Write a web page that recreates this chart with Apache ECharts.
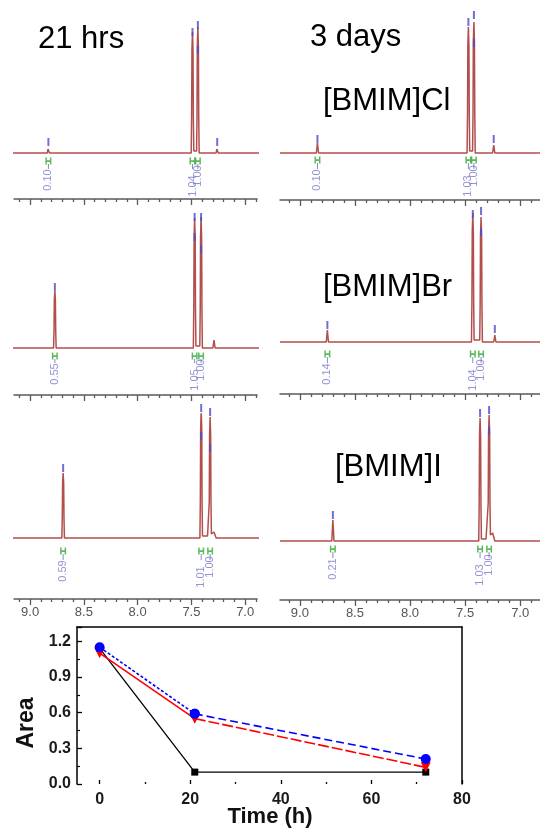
<!DOCTYPE html>
<html>
<head>
<meta charset="utf-8">
<script src="https://cdn.jsdelivr.net/npm/echarts@6/dist/echarts.min.js"></script>
<style>
html,body{margin:0;padding:0;background:#fff}
#c{width:540px;height:832px}
</style>
</head>
<body>
<div id="c"></div>
<script>
// ---- chemical shift axis ticks (ppm) ----
const ppmMajorTicks = [9.0, 8.5, 8.0, 7.5, 7.0];
const ppmMinorTicks = [9.1, 8.9, 8.8, 8.7, 8.6, 8.4, 8.3, 8.2, 8.1, 7.9, 7.8, 7.7, 7.6, 7.4, 7.3, 7.2, 7.1, 6.9];

// ---- 1H NMR traces: [ppm, intensity] ----
const specCl21 = [[9.18,0],[8.84,0],[8.834,4],[8.83,6],[8.826,4],[8.82,0],
  [7.75,0],[7.74,1],[7.73,0],[7.71,0],[7.70,1],[7.69,0],
  [7.502,0],[7.498,36],[7.495,103],[7.49,121],[7.485,103],[7.482,36],[7.478,2],[7.465,2],
  [7.452,2],[7.448,38],[7.445,107],[7.44,126],[7.435,107],[7.432,38],[7.428,0],
  [7.27,0],[7.264,4],[7.26,6],[7.256,4],[7.25,0],
  [7.20,0],[7.19,0.8],[7.18,0],[6.82,0]];
const specCl72 = [[9.18,0],[8.85,0],[8.844,6],[8.84,10],[8.836,6],[8.83,0],
  [7.73,0],[7.72,1],[7.71,0],[7.69,0],[7.68,1],[7.67,0],
  [7.482,0],[7.478,38],[7.475,107],[7.47,126],[7.465,107],[7.462,38],[7.458,2],[7.445,2],
  [7.432,2],[7.428,39],[7.425,111],[7.42,131],[7.415,111],[7.412,39],[7.408,0],
  [7.25,0],[7.244,5],[7.24,8],[7.236,5],[7.23,0],
  [7.17,0],[7.16,0.8],[7.15,0],[6.82,0]];
const specBr21 = [[9.18,0],[8.782,0],[8.778,17],[8.775,48],[8.77,57],[8.765,48],[8.762,17],[8.758,0],
  [7.73,0],[7.72,1],[7.71,0],[7.68,0],[7.67,1],[7.66,0],
  [7.482,0],[7.478,39],[7.475,110],[7.47,130],[7.465,110],[7.462,39],[7.458,2],[7.44,2],
  [7.422,2],[7.418,39],[7.415,111],[7.41,131],[7.405,111],[7.402,39],[7.398,0],
  [7.30,0],[7.294,5],[7.29,8],[7.286,5],[7.28,0],
  [7.24,0],[7.23,1],[7.22,0],[7.17,0],[7.16,1],[7.15,0],[6.82,0]];
const specBr72 = [[9.18,0],[8.76,0],[8.754,7],[8.75,12],[8.746,7],[8.74,0],
  [7.69,0],[7.68,1],[7.67,0],[7.62,0],[7.61,1],[7.60,0],
  [7.442,0],[7.438,39],[7.435,110],[7.43,129],[7.425,110],[7.422,39],[7.418,2],[7.39,2],
  [7.367,2],[7.363,38],[7.36,106],[7.355,125],[7.35,106],[7.347,38],[7.343,0],
  [7.24,0],[7.234,4],[7.23,7],[7.226,4],[7.22,0],
  [7.16,0],[7.15,1],[7.14,0],[7.11,0],[7.10,1],[7.09,0],[6.82,0]];
const specI21 = [[9.18,0],[8.705,0],[8.701,20],[8.698,55],[8.693,65],[8.688,55],[8.685,20],[8.681,0],
  [7.71,0],[7.70,1],[7.69,0],[7.64,0],[7.63,1],[7.62,0],[7.60,0],[7.59,1],[7.58,0],
  [7.421,0],[7.417,38],[7.414,109],[7.409,128],[7.404,109],[7.401,38],[7.397,2],[7.35,2],
  [7.338,2],[7.334,36],[7.331,103],[7.326,121],[7.321,103],[7.318,36],[7.314,4],
  [7.30,5],[7.29,6],[7.28,3],[7.27,0],
  [7.06,0],[7.05,1],[7.04,0],[6.82,0]];
const specI72 = [[9.18,0],[8.71,0],[8.704,13],[8.70,21],[8.696,13],[8.69,0],
  [7.65,0],[7.64,1],[7.63,0],[7.58,0],[7.57,1],[7.56,0],
  [7.376,0],[7.372,37],[7.369,105],[7.364,123],[7.359,105],[7.356,37],[7.352,2],[7.31,2],
  [7.294,2],[7.29,38],[7.287,107],[7.282,126],[7.277,107],[7.274,38],[7.27,6],
  [7.26,7],[7.25,8],[7.24,4],[7.23,0],
  [7.10,0],[7.09,1],[7.08,0],[6.82,0]];

// ---- peak-pick ticks: [ppm, level] ----
const pickCl21 = [[8.83,11],[7.49,121],[7.44,128],[7.44,103],[7.26,11]];
const pickCl72 = [[8.84,14],[7.47,131],[7.42,138],[7.42,110],[7.24,14]];
const pickBr21 = [[8.77,61],[7.47,131],[7.47,111],[7.41,131],[7.41,99]];
const pickBr72 = [[8.75,17],[7.43,128],[7.355,131],[7.355,110],[7.23,13]];
const pickI21 = [[8.693,70],[7.409,130],[7.409,102],[7.326,126],[7.326,90]];
const pickI72 = [[8.70,26],[7.364,128],[7.282,131],[7.282,110]];

// ---- integrals: [ppm, value] ----
const intCl21 = [[8.83,'0.10'],[7.49,'1.04'],[7.44,'1.00']];
const intCl72 = [[8.84,'0.10'],[7.47,'1.03'],[7.42,'1.00']];
const intBr21 = [[8.77,'0.55'],[7.47,'1.05'],[7.41,'1.00']];
const intBr72 = [[8.75,'0.14'],[7.43,'1.04'],[7.355,'1.00']];
const intI21 = [[8.693,'0.59'],[7.409,'1.01'],[7.326,'1.00']];
const intI72 = [[8.70,'0.21'],[7.364,'1.03'],[7.282,'1.00']];

// ---- area vs time ----
const timeHours = [0, 21, 72];
const areaCl = [1.14, 0.10, 0.10];
const areaBr = [1.10, 0.55, 0.14];
const areaI  = [1.15, 0.59, 0.21];
const timeMajorTicks = [0, 20, 40, 60, 80];
const timeMinorTicks = [10, 30, 50, 70];

// ---- layout ----
const FONT = '"Liberation Sans", Arial, sans-serif';
const H = 185;
const cols = [
  {left: 14, width: 243, min: 6.89, max: 9.15},
  {left: 280, width: 260, min: 6.82, max: 9.18}
];
const panels = [
  {spec: specCl21, picks: pickCl21, ints: intCl21, col: 0, axisY: 199, base: 153, gDy: 8,  tDy: 27, labels: false},
  {spec: specCl72, picks: pickCl72, ints: intCl72, col: 1, axisY: 200, base: 153, gDy: 7,  tDy: 27, labels: false},
  {spec: specBr21, picks: pickBr21, ints: intBr21, col: 0, axisY: 395, base: 348, gDy: 8,  tDy: 26, labels: false},
  {spec: specBr72, picks: pickBr72, ints: intBr72, col: 1, axisY: 394, base: 342, gDy: 12, tDy: 32, labels: false},
  {spec: specI21,  picks: pickI21,  ints: intI21,  col: 0, axisY: 599, base: 538, gDy: 13, tDy: 33, labels: true},
  {spec: specI72,  picks: pickI72,  ints: intI72,  col: 1, axisY: 600, base: 541, gDy: 8,  tDy: 28, labels: true}
];

const grids = [], xAxes = [], yAxes = [], series = [];
const axisGray = '#5a5a5a';

panels.forEach((p, i) => {
  const c = cols[p.col];
  const below = p.axisY - p.base;
  grids.push({left: c.left, width: c.width, top: p.axisY - H, height: H});
  // major ticks + labels
  xAxes.push({
    type: 'value', gridIndex: i, inverse: true, min: c.min, max: c.max, position: 'bottom',
    axisLine: {show: true, onZero: false, lineStyle: {color: axisGray, width: 1.5}},
    axisTick: {show: true, inside: false, length: 6, customValues: ppmMajorTicks, lineStyle: {color: axisGray, width: 1.3}},
    axisLabel: {show: p.labels, customValues: ppmMajorTicks, formatter: v => v.toFixed(1),
      color: '#555', fontSize: 13, fontFamily: FONT, margin: 7},
    splitLine: {show: false}
  });
  // minor ticks
  xAxes.push({
    type: 'value', gridIndex: i, inverse: true, min: c.min, max: c.max, position: 'bottom',
    axisLine: {show: false, onZero: false},
    axisTick: {show: true, inside: false, length: 3, customValues: ppmMinorTicks, lineStyle: {color: axisGray, width: 1.3}},
    axisLabel: {show: false},
    splitLine: {show: false}
  });
  yAxes.push({type: 'value', gridIndex: i, min: -below, max: H - below, show: false});

  const xi = 2 * i;
  series.push({
    type: 'line', xAxisIndex: xi, yAxisIndex: i, data: p.spec, symbol: 'none',
    lineStyle: {color: '#b24f4c', width: 1.5}, silent: true, z: 2
  });
  series.push({
    type: 'scatter', xAxisIndex: xi, yAxisIndex: i, data: p.picks, symbol: 'rect', symbolSize: [2, 8],
    itemStyle: {color: '#4b4bc9'}, clip: false, silent: true, z: 3
  });
  series.push({
    type: 'scatter', xAxisIndex: xi, yAxisIndex: i, data: p.ints.map(d => [d[0], -p.gDy]),
    symbol: 'path://M0,0H2V3H6V0H8V8H6V5H2V8H0Z', symbolSize: [6, 7],
    itemStyle: {color: '#35a835'}, clip: false, silent: true, z: 3
  });
  const gap = Math.max(2, p.tDy - 11 - p.gDy - 3);
  series.push({
    type: 'scatter', xAxisIndex: xi, yAxisIndex: i,
    data: p.ints.map(d => [d[0], -(p.gDy + 3 + gap / 2)]),
    symbol: 'rect', symbolSize: [1, gap], itemStyle: {color: '#6a6ac4'}, clip: false, silent: true, z: 3
  });
  series.push({
    type: 'scatter', xAxisIndex: xi, yAxisIndex: i,
    data: p.ints.map((d, k) => ({
      value: [d[0], -p.tDy], name: d[1],
      label: {offset: [k === 1 ? -6 : (k === 2 ? 4 : 0), 0]}
    })),
    symbol: 'rect', symbolSize: 2, itemStyle: {color: 'rgba(255,255,255,0)'}, clip: false, silent: true, z: 4,
    label: {show: true, formatter: '{b}', rotate: 90, position: 'inside',
      color: '#7878c8', fontSize: 11, fontFamily: FONT}
  });
});

// ---- area vs time chart ----
const gi = panels.length;
grids.push({left: 77, top: 627, width: 385, height: 157});
const xMain = xAxes.length;
xAxes.push({
  type: 'value', gridIndex: gi, min: -5, max: 80, position: 'bottom',
  axisLine: {show: false, onZero: false},
  axisTick: {show: true, inside: true, length: 4, customValues: timeMajorTicks, lineStyle: {color: '#000', width: 1.3}},
  axisLabel: {customValues: timeMajorTicks, color: '#1a1a1a', fontSize: 16, fontWeight: 'bold', fontFamily: FONT, margin: 8},
  splitLine: {show: false}
});
xAxes.push({
  type: 'value', gridIndex: gi, min: -5, max: 80, position: 'bottom',
  axisLine: {show: false, onZero: false},
  axisTick: {show: true, inside: true, length: 2, customValues: timeMinorTicks, lineStyle: {color: '#000', width: 1.3}},
  axisLabel: {show: false}, splitLine: {show: false}
});
xAxes.push({
  type: 'value', gridIndex: gi, min: -5, max: 80, position: 'top',
  axisLine: {show: true, onZero: false, lineStyle: {color: '#000', width: 1.5}},
  axisTick: {show: false}, axisLabel: {show: false}, splitLine: {show: false}
});
const yMain = yAxes.length;
yAxes.push({
  type: 'value', gridIndex: gi, min: 0, max: 1.32, interval: 0.3, position: 'left',
  axisLine: {show: true, onZero: false, lineStyle: {color: '#000', width: 1.5}},
  axisTick: {show: true, inside: true, length: 5, lineStyle: {color: '#000', width: 1.3}},
  minorTick: {show: true, splitNumber: 2, length: 3, lineStyle: {color: '#000', width: 1.2}},
  axisLabel: {formatter: v => v.toFixed(1), showMaxLabel: false, color: '#1a1a1a', fontSize: 16,
    fontWeight: 'bold', fontFamily: FONT, margin: 6},
  splitLine: {show: false}
});
yAxes.push({
  type: 'value', gridIndex: gi, min: 0, max: 1.32, position: 'right',
  axisLine: {show: true, onZero: false, lineStyle: {color: '#000', width: 1.5}},
  axisTick: {show: false}, axisLabel: {show: false}, splitLine: {show: false}
});

const ptsCl = timeHours.map((t, k) => [t, areaCl[k]]);
const ptsBr = timeHours.map((t, k) => [t, areaBr[k]]);
const ptsI  = timeHours.map((t, k) => [t, areaI[k]]);

series.push({
  type: 'line', xAxisIndex: xMain, yAxisIndex: yMain, data: ptsCl,
  symbol: 'rect', symbolSize: 7, showAllSymbol: true,
  lineStyle: {color: '#000', width: 1.3}, itemStyle: {color: '#000'}, z: 4
});
series.push({
  type: 'line', xAxisIndex: xMain, yAxisIndex: yMain, data: ptsBr.slice(0, 2),
  symbol: 'triangle', symbolRotate: 180, symbolSize: 10,
  lineStyle: {color: '#ff0000', width: 1.6}, itemStyle: {color: '#ff0000'}, z: 5
});
series.push({
  type: 'line', xAxisIndex: xMain, yAxisIndex: yMain, data: ptsBr.slice(1),
  symbol: 'triangle', symbolRotate: 180, symbolSize: 10,
  lineStyle: {color: '#ff0000', width: 1.6, type: [11, 3]}, itemStyle: {color: '#ff0000'}, z: 5
});
series.push({
  type: 'line', xAxisIndex: xMain, yAxisIndex: yMain, data: ptsI.slice(0, 2),
  symbol: 'circle', symbolSize: 10,
  lineStyle: {color: '#0000ff', width: 1.6, type: [3, 2]}, itemStyle: {color: '#0000ff'}, z: 6
});
series.push({
  type: 'line', xAxisIndex: xMain, yAxisIndex: yMain, data: ptsI.slice(1),
  symbol: 'circle', symbolSize: 10,
  lineStyle: {color: '#0000ff', width: 1.6, type: [8, 4]}, itemStyle: {color: '#0000ff'}, z: 6
});

const bigFont = '31px ' + FONT;
const option = {
  animation: false,
  backgroundColor: '#fff',
  grid: grids,
  xAxis: xAxes,
  yAxis: yAxes,
  series: series,
  graphic: [
    {type: 'text', x: 38, y: 39, style: {text: '21 hrs', font: bigFont, fill: '#000', verticalAlign: 'middle'}},
    {type: 'text', x: 310, y: 37, style: {text: '3 days', font: bigFont, fill: '#000', verticalAlign: 'middle'}},
    {type: 'text', x: 323, y: 101, style: {text: '[BMIM]Cl', font: bigFont, fill: '#000', verticalAlign: 'middle'}},
    {type: 'text', x: 323, y: 287, style: {text: '[BMIM]Br', font: bigFont, fill: '#000', verticalAlign: 'middle'}},
    {type: 'text', x: 335, y: 467, style: {text: '[BMIM]I', font: bigFont, fill: '#000', verticalAlign: 'middle'}},
    {type: 'text', x: 27, y: 723, rotation: Math.PI / 2,
      style: {text: 'Area', font: 'bold 23px ' + FONT, fill: '#111', align: 'center', verticalAlign: 'middle'}},
    {type: 'text', x: 270, y: 817,
      style: {text: 'Time (h)', font: 'bold 22px ' + FONT, fill: '#111', align: 'center', verticalAlign: 'middle'}}
  ]
};

const chart = echarts.init(document.getElementById('c'), null, {renderer: 'canvas'});
chart.setOption(option);
</script>
</body>
</html>
